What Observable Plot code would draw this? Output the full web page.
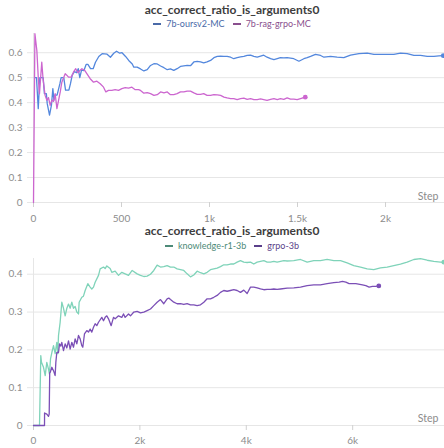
<!DOCTYPE html>
<html><head><meta charset="utf-8">
<script src="https://cdn.jsdelivr.net/npm/d3@7"></script>
<script src="https://cdn.jsdelivr.net/npm/@observablehq/plot@0.6"></script>
<style>
body{margin:0;background:#fff;font-family:Lato,"Noto Sans",sans-serif}
#wrap{position:relative;width:444px;height:448px;overflow:hidden}
.title{position:absolute;left:20px;width:424px;text-align:center;font-weight:700;font-size:12px;line-height:14px;color:#3d3d3d}
.legend{position:absolute;left:20px;width:424px;text-align:center;font-size:9px;line-height:12px}
.legend span.item{margin:0 4px;white-space:nowrap}
.legend span.sw{display:inline-block;width:8px;height:2px;vertical-align:middle;margin-right:5px;position:relative;top:-1px}
.panel{position:absolute;left:0}
</style>
</head><body><div id="wrap"></div>
<script>
// ---- data ----
const chartTitle = "acc_correct_ratio_is_arguments0";

const topNames = ["7b-oursv2-MC", "7b-rag-grpo-MC"];
const topColors = ["#5387dd", "#cc66cf"];
const topLegendColors = ["#4a6aa8", "#8a4f8e"];

const oursSteps = [5,17,27,36,55,62,73,78,91,102,110,116,121,134,150,157,172,182,201,210,220,233,244,254,263,273,286,299,309,324,339,352,371,390,418,437,456,472,490,503,523,541,561,570,589,608,627,646,665,684,703,722,741,760,778,797,816,835,854,873,892,911,930,949,967,986,1006,1025,1044,1063,1082,1100,1120,1138,1157,1176,1195,1214,1233,1252,1271,1290,1308,1327,1347,1366,1385,1403,1422,1441,1460,1479,1508,1536,1555,1574,1602,1631,1650,1688,1725,1763,1801,1849,1896,1934,1972,2010,2047,2085,2123,2161,2199,2237,2275,2303,2328];
const oursVals = [0.50,0.50,0.376,0.50,0.50,0.436,0.436,0.396,0.35,0.39,0.456,0.41,0.43,0.43,0.476,0.50,0.50,0.45,0.45,0.476,0.51,0.525,0.52,0.536,0.50,0.53,0.528,0.553,0.553,0.536,0.536,0.562,0.585,0.596,0.594,0.582,0.598,0.606,0.598,0.600,0.585,0.569,0.555,0.542,0.542,0.535,0.527,0.532,0.549,0.556,0.555,0.547,0.54,0.532,0.535,0.529,0.536,0.545,0.547,0.549,0.548,0.563,0.565,0.563,0.559,0.563,0.569,0.58,0.585,0.586,0.585,0.585,0.582,0.576,0.58,0.583,0.585,0.589,0.59,0.585,0.582,0.586,0.59,0.582,0.576,0.572,0.576,0.58,0.579,0.58,0.578,0.576,0.566,0.576,0.58,0.585,0.593,0.589,0.582,0.585,0.582,0.58,0.59,0.596,0.598,0.593,0.593,0.593,0.593,0.598,0.596,0.589,0.589,0.585,0.585,0.587,0.588];

const ragSteps = [0,8,19,28,34,47,55,66,76,85,95,104,114,123,133,152,161,180,189,199,214,227,240,252,265,275,290,303,322,341,360,379,398,411,426,445,464,483,502,521,540,559,578,597,608,627,646,665,684,703,722,741,760,778,797,816,835,854,873,892,911,930,949,967,986,1006,1025,1044,1063,1082,1100,1120,1138,1157,1176,1195,1214,1233,1252,1271,1290,1308,1327,1347,1366,1385,1403,1422,1441,1460,1479,1498,1517,1544];
const ragVals = [0,0.676,0.609,0.489,0.436,0.562,0.489,0.429,0.409,0.42,0.389,0.41,0.405,0.436,0.376,0.443,0.482,0.516,0.51,0.502,0.502,0.522,0.536,0.52,0.53,0.536,0.53,0.516,0.496,0.482,0.486,0.476,0.462,0.443,0.449,0.449,0.452,0.449,0.456,0.46,0.458,0.462,0.452,0.452,0.449,0.438,0.44,0.436,0.429,0.432,0.443,0.439,0.443,0.432,0.432,0.436,0.443,0.443,0.446,0.446,0.439,0.433,0.433,0.436,0.429,0.429,0.432,0.431,0.429,0.422,0.419,0.416,0.416,0.412,0.416,0.418,0.413,0.416,0.412,0.412,0.415,0.412,0.409,0.413,0.416,0.412,0.416,0.413,0.419,0.414,0.414,0.412,0.416,0.422];

const botNames = ["knowledge-r1-3b", "grpo-3b"];
const botColors = ["#7fd3b9", "#7b4fb6"];
const botLegendColors = ["#4d8a78", "#5a3f8a"];

const krSteps = [0,113,137,150,188,220,250,282,300,320,345,376,407,438,457,470,501,532,564,595,627,658,689,720,752,783,814,846,858,908,939,971,1021,1065,1096,1128,1159,1222,1253,1316,1347,1378,1441,1472,1535,1598,1660,1723,1786,1855,1948,2011,2074,2136,2199,2261,2324,2387,2449,2512,2575,2637,2700,2763,2825,2888,2951,3013,3076,3139,3202,3264,3327,3389,3452,3515,3577,3640,3702,3765,3828,3891,3953,4016,4079,4141,4204,4267,4330,4392,4455,4518,4580,4643,4706,4768,4893,5019,5144,5269,5394,5520,5645,5771,5896,6021,6147,6272,6397,6523,6648,6773,6898,7024,7149,7274,7400,7525,7650,7713];
const krVals = [0,0,0.185,0.167,0.154,0.132,0.167,0.149,0.136,0.176,0.193,0.211,0.19,0.22,0.19,0.238,0.273,0.326,0.31,0.29,0.31,0.321,0.31,0.326,0.31,0.315,0.30,0.295,0.326,0.339,0.342,0.357,0.375,0.366,0.361,0.366,0.379,0.397,0.414,0.419,0.415,0.422,0.415,0.405,0.408,0.397,0.405,0.401,0.397,0.41,0.401,0.397,0.394,0.395,0.40,0.41,0.424,0.419,0.42,0.423,0.419,0.419,0.414,0.412,0.41,0.401,0.393,0.398,0.408,0.404,0.401,0.405,0.412,0.414,0.416,0.42,0.425,0.425,0.427,0.427,0.432,0.436,0.432,0.431,0.432,0.427,0.432,0.434,0.436,0.432,0.432,0.434,0.432,0.434,0.436,0.435,0.436,0.439,0.432,0.436,0.436,0.439,0.436,0.436,0.43,0.423,0.419,0.414,0.412,0.417,0.419,0.423,0.427,0.432,0.439,0.441,0.437,0.434,0.432,0.432];

const grpoSteps = [0,207,208,250,282,295,305,313,345,376,407,420,438,470,489,514,532,564,595,627,658,689,720,752,783,814,846,877,908,927,958,1002,1033,1065,1096,1128,1159,1190,1222,1284,1316,1347,1378,1410,1460,1504,1535,1567,1598,1660,1692,1723,1786,1823,1886,1948,2011,2074,2136,2199,2261,2324,2387,2449,2512,2543,2575,2637,2700,2763,2825,2888,2951,3013,3076,3139,3202,3264,3327,3389,3452,3515,3577,3640,3702,3765,3828,3891,3953,4016,4079,4141,4204,4267,4330,4392,4455,4518,4580,4643,4768,4893,5019,5144,5269,5394,5520,5645,5746,5808,5871,5933,6059,6184,6247,6309,6372,6434,6491];
const grpoVals = [0,0,0.033,0.03,0.024,0.03,0.14,0.14,0.154,0.145,0.132,0.167,0.193,0.193,0.216,0.21,0.22,0.198,0.216,0.205,0.224,0.202,0.22,0.207,0.229,0.216,0.238,0.229,0.211,0.207,0.242,0.251,0.247,0.255,0.247,0.26,0.269,0.264,0.273,0.286,0.277,0.286,0.29,0.282,0.264,0.286,0.282,0.286,0.29,0.286,0.295,0.286,0.295,0.29,0.3,0.302,0.298,0.3,0.304,0.308,0.317,0.326,0.333,0.322,0.335,0.337,0.333,0.326,0.322,0.322,0.32,0.322,0.319,0.319,0.317,0.319,0.326,0.335,0.335,0.339,0.344,0.352,0.357,0.355,0.357,0.359,0.357,0.352,0.358,0.349,0.366,0.366,0.364,0.361,0.359,0.36,0.36,0.361,0.36,0.361,0.363,0.364,0.366,0.37,0.372,0.372,0.375,0.378,0.379,0.381,0.379,0.375,0.375,0.372,0.37,0.366,0.368,0.368,0.369];

const topXTicks = [0, 500, 1000, 1500, 2000];
const topYTicks = [0, 0.1, 0.2, 0.3, 0.4, 0.5, 0.6];
const botXTicks = [0, 2000, 4000, 6000];
const botYTicks = [0, 0.1, 0.2, 0.3, 0.4];
const xLabel = "Step";

// ---- helpers ----
const toRows = (steps, vals, name) => steps.map((s, i) => ({step: s, value: vals[i], name}));
const fmtX = d => d === 0 ? "0" : (d < 1000 ? String(d) : (d / 1000) + "k");
const fmtY = d => d === 0 ? "0" : d3.format(".1f")(d);

const wrap = document.getElementById("wrap");
function addDiv(cls, top, html) {
  const el = document.createElement("div");
  el.className = cls; el.style.top = top + "px"; el.innerHTML = html;
  wrap.appendChild(el); return el;
}
function legendHTML(names, colors) {
  return names.map((n, i) => `<span class="item"><span class="sw" style="background:${colors[i]}"></span><span style="color:${colors[i]}">${n}</span></span>`).join("");
}

function panel({seriesList, names, colors, xDomain, yDomain, xTicks, yTicks, height, marginTop, marginBottom, tickPadding, stepDy}) {
  const marks = [
    Plot.ruleY(yTicks, {stroke: "#e6e6e6", strokeWidth: 1, insetLeft: -6}),
    Plot.ruleX([0], {stroke: "#e6e6e6"}),
    Plot.axisX({ticks: xTicks, tickFormat: fmtX, tickSize: 5, tickPadding, stroke: "#d0d0d0", label: null, fill: "#8c8c8c"}),
    Plot.axisY({ticks: yTicks, tickFormat: fmtY, tickSize: 0, tickPadding: 11, label: null, fill: "#8c8c8c"}),
    Plot.text([xLabel], {frameAnchor: "bottom-right", dx: -6, dy: stepDy, fill: "#8c8c8c", fontSize: 10.5})
  ];
  seriesList.forEach((rows, i) => {
    marks.push(Plot.line(rows, {x: "step", y: "value", stroke: colors[i], strokeWidth: 1.3}));
    marks.push(Plot.dot([rows[rows.length - 1]], {x: "step", y: "value", fill: colors[i], r: 2.4}));
  });
  return Plot.plot({
    width: 444, height, marginLeft: 33, marginRight: 0, marginTop, marginBottom,
    style: {fontFamily: "Lato, 'Noto Sans', sans-serif", fontSize: "10px", background: "transparent", overflow: "visible"},
    x: {domain: xDomain},
    y: {domain: yDomain},
    marks
  });
}

// ---- top panel ----
addDiv("title", 3, chartTitle);
addDiv("legend", 18, legendHTML(topNames, topLegendColors));
const p1 = panel({
  seriesList: [toRows(oursSteps, oursVals, topNames[0]), toRows(ragSteps, ragVals, topNames[1])],
  names: topNames, colors: topColors,
  xDomain: [0, 2335], yDomain: [0, 0.677], xTicks: topXTicks, yTicks: topYTicks,
  height: 194, marginTop: 3, marginBottom: 22, tickPadding: 7, stepDy: -3
});
const d1 = document.createElement("div"); d1.className = "panel"; d1.style.top = "30px"; d1.appendChild(p1); wrap.appendChild(d1);

// ---- bottom panel ----
addDiv("title", 224, chartTitle);
addDiv("legend", 240, legendHTML(botNames, botLegendColors));
const p2 = panel({
  seriesList: [toRows(krSteps, krVals, botNames[0]), toRows(grpoSteps, grpoVals, botNames[1])],
  names: botNames, colors: botColors,
  xDomain: [0, 7726], yDomain: [0, 0.4416], xTicks: botXTicks, yTicks: botYTicks,
  height: 196, marginTop: 6, marginBottom: 23, tickPadding: 6, stepDy: -4
});
const d2 = document.createElement("div"); d2.className = "panel"; d2.style.top = "252px"; d2.appendChild(p2); wrap.appendChild(d2);
</script>
</body></html>
